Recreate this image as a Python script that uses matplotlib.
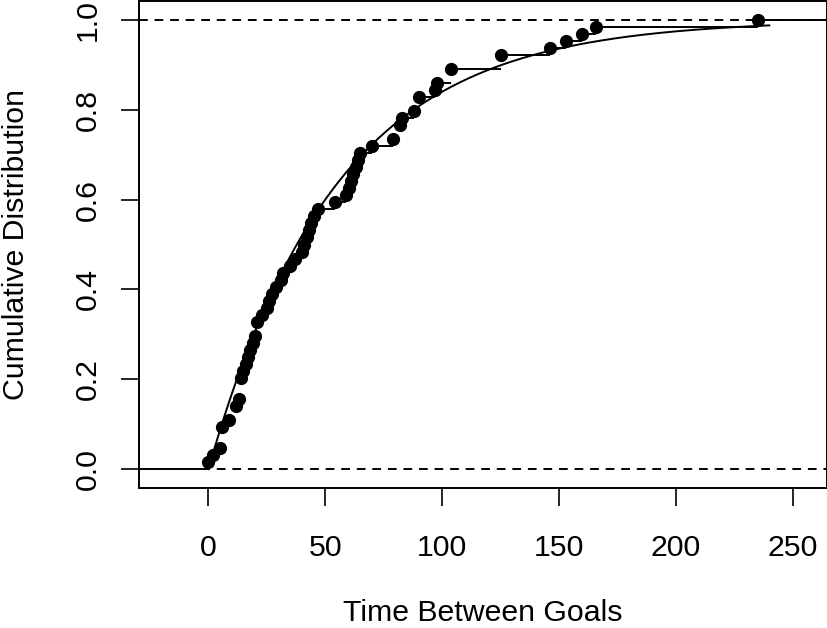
import numpy as np
import matplotlib.pyplot as plt

plt.rcParams['font.family'] = ['Liberation Sans', 'DejaVu Sans']

goal_gaps = [0, 2, 5, 6, 6, 6, 9, 12, 12, 13,
             14, 14, 14, 15, 16, 17, 18, 19, 20, 21,
             21, 23, 25, 26, 27, 29, 31, 32, 35, 37,
             40, 41, 42, 43, 44, 45, 47, 54, 59, 60,
             61, 62, 63, 64, 65, 70, 79, 82, 82, 83,
             88, 90, 90, 97, 98, 104, 104, 125, 125, 146,
             153, 160, 166, 235]
x_ticks = [0, 50, 100, 150, 200, 250]
y_ticks = [0.0, 0.2, 0.4, 0.6, 0.8, 1.0]

data = np.sort(np.array(goal_gaps, dtype=float))
n = len(data)
knots, counts = np.unique(data, return_counts=True)
levels = np.cumsum(counts) / n

# exponential fit, rate = 1 / mean
mean_gap = data.mean()
xs = np.linspace(0, 240, 400)
fit_cdf = 1 - np.exp(-xs / mean_gap)

# R-style limits for plot.ecdf
dr = max(0.08 * (knots[-1] - knots[0]), np.median(np.diff(knots)))
lo, hi = knots[0] - dr, knots[-1] + dr
pad = 0.04 * (hi - lo)
xlim = (lo - pad, hi + pad)

fig = plt.figure(figsize=(8.28, 6.28), dpi=100)
ax = fig.add_axes([139 / 828, 1 - 488 / 628, (827 - 139) / 828, (488 - 1) / 628])

lw = 1.4
ax.axhline(0, color='black', lw=lw, ls=(0, (4.5, 3.5)))
ax.axhline(1, color='black', lw=lw, ls=(0, (4.5, 3.5)))

# step segments
starts = np.concatenate([[xlim[0] - 50], knots])
ends = np.concatenate([knots, [xlim[1] + 50]])
heights = np.concatenate([[0], levels])
ax.hlines(heights, starts, ends, color='black', lw=lw)
ax.plot(knots, levels, 'o', color='black', markersize=8.5)

ax.plot(xs, fit_cdf, color='black', lw=lw)

ax.set_xlim(xlim)
ax.set_ylim(-0.042, 1.042)
ax.set_xticks(x_ticks)
ax.set_yticks(y_ticks)
ax.set_yticklabels([f"{v:.1f}" for v in y_ticks], rotation=90, va='center')
ax.tick_params(axis='both', length=13, width=1.2, labelsize=21.8, direction='out')
ax.tick_params(axis='x', pad=20)
ax.tick_params(axis='y', pad=14)
for s in ax.spines.values():
    s.set_linewidth(1.4)

ax.set_xlabel("Time Between Goals", fontsize=21.8, labelpad=27)
ax.set_ylabel("Cumulative Distribution", fontsize=21.8, labelpad=31)

fig.savefig("out.png", dpi=100)
